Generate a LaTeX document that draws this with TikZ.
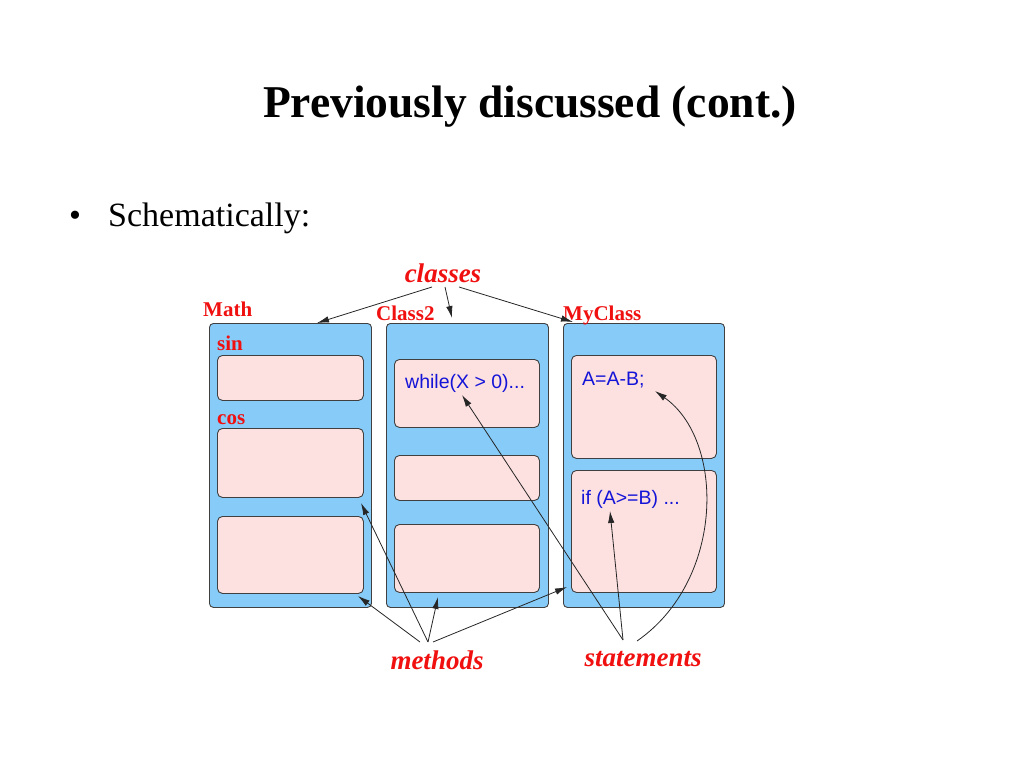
\documentclass[tikz,border=0pt]{standalone}
\usepackage{fontspec}
\setmainfont{Liberation Serif}
\newfontfamily\codefont{Liberation Sans}
\usetikzlibrary{arrows.meta}
\definecolor{clsblue}{HTML}{87CBF8}
\definecolor{mpink}{HTML}{FDE0E0}
\definecolor{lblred}{HTML}{F01010}
\definecolor{codeblue}{HTML}{1414D8}
\begin{document}
\begin{tikzpicture}[x=1pt,y=-1pt,
 classbox/.style={draw=black!75, fill=clsblue, rounded corners=4pt, line width=0.9pt, inner sep=0pt, anchor=north west},
 methbox/.style={draw=black!75, fill=mpink, rounded corners=5pt, line width=0.9pt, inner sep=0pt, anchor=north west},
 lbl/.style={text=lblred, font=\fontsize{27}{30}\selectfont\bfseries\itshape, inner sep=0pt, anchor=base},
 cname/.style={text=lblred, font=\fontsize{21}{24}\selectfont\bfseries, inner sep=0pt, anchor=base west},
 code/.style={text=codeblue, font=\codefont\fontsize{19.5}{22}\selectfont, inner sep=0pt, anchor=base west},
 arr/.style={-{Latex[length=12pt,width=6.5pt]}, line width=0.8pt, black!85},
]
\useasboundingbox (0,0) rectangle (1024,768);
% title and bullet
\node[font=\fontsize{45.5}{50}\selectfont\bfseries, inner sep=0pt, anchor=base] (title) at (530,117) {Previously discussed (cont.)};
\node[font=\fontsize{34}{38}\selectfont, inner sep=0pt, anchor=base] (bullet) at (75,226) {•};
\node[font=\fontsize{34}{38}\selectfont, inner sep=0pt, anchor=base west] (schem) at (108,226) {Schematically:};
% class boxes
\node[classbox, minimum width=162pt, minimum height=284pt] (math) at (209,323) {};
\node[classbox, minimum width=162pt, minimum height=284pt] (class2) at (386,323) {};
\node[classbox, minimum width=161pt, minimum height=284pt] (myclass) at (563,323) {};
% method boxes
\node[methbox, minimum width=146pt, minimum height=45pt] (m1) at (217,355) {};
\node[methbox, minimum width=146pt, minimum height=69pt] (m2) at (217,428) {};
\node[methbox, minimum width=146pt, minimum height=77pt] (m3) at (217,516) {};
\node[methbox, minimum width=145pt, minimum height=68pt] (c1) at (394,359) {};
\node[methbox, minimum width=145pt, minimum height=45pt] (c2) at (394,455) {};
\node[methbox, minimum width=145pt, minimum height=68pt] (c3) at (394,524) {};
\node[methbox, minimum width=145pt, minimum height=103pt] (y1) at (571,355) {};
\node[methbox, minimum width=145pt, minimum height=122pt] (y2) at (571,470) {};
% names
\node[cname] (mathname) at (203,316) {Math};
\node[cname] (class2name) at (376,320) {Class2};
\node[cname] (myclassname) at (563,320) {MyClass};
\node[cname] (sinname) at (217,350) {sin};
\node[cname] (cosname) at (217,424) {cos};
% code
\node[code] (whiletxt) at (405,388) {while(X > 0)...};
\node[code] (assigntxt) at (582,385) {A=A-B;};
\node[code] (iftxt) at (581,504) {if (A>=B) ...};
% labels
\node[lbl] (classes) at (443,282) {classes};
\node[lbl] (methods) at (437,669) {methods};
\node[lbl] (statements) at (643,666) {statements};
% coordinates
\coordinate (cs1) at (432,287);
\coordinate (cs2) at (445,287);
\coordinate (cs3) at (459,287);
\coordinate (ct1) at (317,323);
\coordinate (ct2) at (452,318);
\coordinate (ct3) at (573,322);
\coordinate (ms1) at (428,642);
\coordinate (ms2) at (420,642);
\coordinate (ms3) at (433,642);
\coordinate (mt1) at (361,503);
\coordinate (mt2) at (358,596);
\coordinate (mt3) at (438,597);
\coordinate (mt4) at (567,587);
\coordinate (ss1) at (623,640);
\coordinate (ss2) at (637,641);
\coordinate (st1) at (462,395);
\coordinate (st2) at (610,511);
\coordinate (st3) at (655,391);
% arrows
\draw[arr] (cs1) -- (ct1);
\draw[arr] (cs2) -- (ct2);
\draw[arr] (cs3) -- (ct3);
\draw[arr] (ms1) -- (mt1);
\draw[arr] (ms2) -- (mt2);
\draw[arr] (ms1) -- (mt3);
\draw[arr] (ms3) -- (mt4);
\draw[arr] (ss1) -- (st1);
\draw[arr] (ss1) -- (st2);
\draw[arr] (ss2) .. controls (725,580) and (725,440) .. (st3);
\end{tikzpicture}
\end{document}
